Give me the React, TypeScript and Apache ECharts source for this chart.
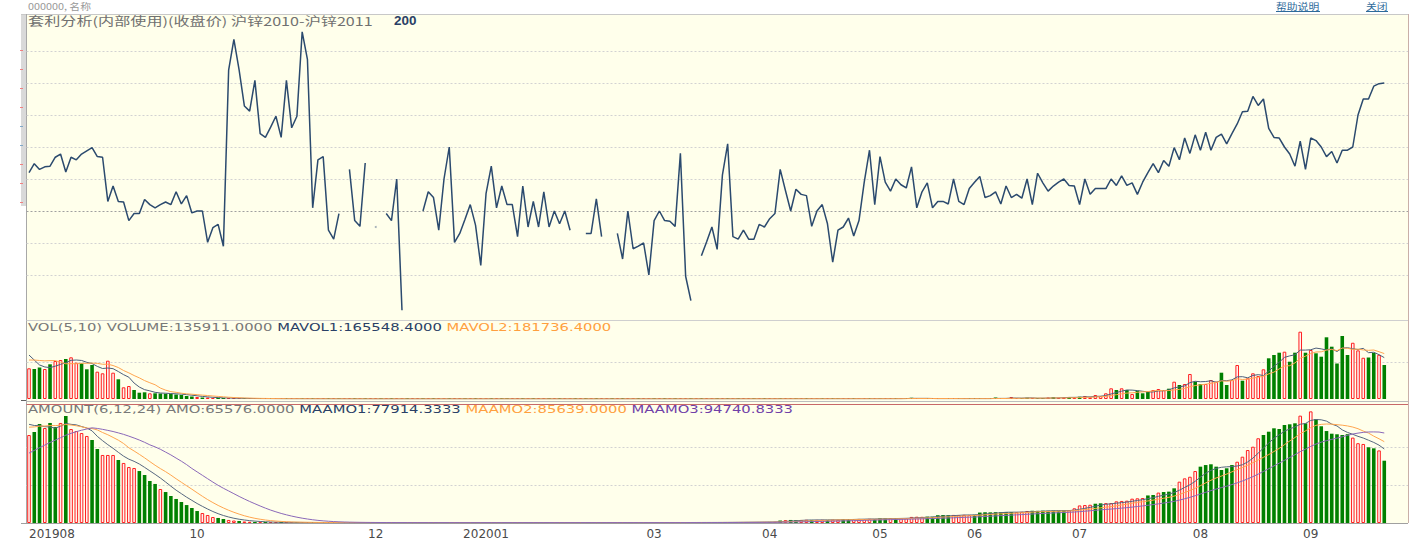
import React, { useEffect, useRef } from "react";
import * as echarts from "echarts";

// ---------- time axis (trading-day bars per month) ----------
const monthIds = ["2019-08", "2019-09", "2019-10", "2019-11", "2019-12", "2020-01", "2020-02", "2020-03", "2020-04", "2020-05", "2020-06", "2020-07", "2020-08", "2020-09"];
const monthLabels = ["201908", "09", "10", "11", "12", "202001", "02", "03", "04", "05", "06", "07", "08", "09"];
const monthShown = [true, false, true, false, true, true, false, true, true, true, true, true, true, true];
const monthBars = [14, 18, 16, 18, 21, 14, 18, 22, 21, 18, 20, 23, 21, 15];

// ---------- spread 沪锌2010-沪锌2011 (close) ----------
const spread: (number | null)[] = [
  60, 74, 65, 69, 70, 84, 89, 61, 84, 80,
  89, 94, 99, 85, 84, 15, 39, 15, 14, -15,
  -4, -4, 18, 10, 5, 10, 14, 10, 30, 11,
  24, -3, 0, 0, -49, -26, -21, -55, 220, 268,
  220, 164, 156, 204, 121, 115, 131, 148, 115, 204,
  130, 148, 280, 237, 5, 80, 85, -30, -44, -4,
  null, 65, -15, -24, 75, null, -25, null, -4, -15,
  50, -155, null, null, null, 0, 30, 21, -30, 50,
  100, -49, -35, -13, 10, -22, -85, 27, 70, 5,
  39, 10, 10, -40, 39, -25, 15, -25, 30, -25,
  0, -20, 0, -30, null, null, -35, -35, 19, -40,
  null, null, -35, -75, 0, -59, -55, -50, -100, -15,
  0, -15, -16, -24, 90, -102, -140, null, -70, -48,
  -25, -60, 56, 105, -40, -44, -30, -44, -44, -21,
  -25, -12, -4, 65, 32, 0, 34, 26, 24, -24,
  0, 10, -20, -80, -30, -25, -11, -39, -15, 45,
  95, 10, 85, 45, 31, 50, 41, 36, 69, 5,
  30, 44, 5, 15, 15, 11, 50, 15, 10, 35,
  45, 54, 21, 24, 30, 11, 39, 21, 26, 20,
  50, 10, 59, 44, 31, 39, 45, 50, 40, 39,
  10, 50, 26, 35, 35, 35, 50, 40, 55, 40,
  44, 26, 45, 60, 74, 60, 79, 70, 99, 80,
  114, 90, 119, 95, 123, 95, 115, 120, 105, 121,
  136, 155, 156, 179, 165, 175, 129, 115, 114, 100,
  89, 70, 109, 65, 114, 110, 100, 85, 93, 75,
  95, 95, 100, 150, 175, 175, 195, 199, 200,
];

// ---------- VOLUME ----------
const volumePrior = [120000, 144000, 136000, 128000, 152000, 220000, 224000, 160000, 152000];
const volume = [
  122800, 120000, 126000, 120000, 138800, 152000, 156000, 160000, 166800, 145200,
  142800, 118800, 136000, 109200, 102800, 153200, 105200, 78800, 46800, 52000,
  36000, 25200, 26800, 22800, 22800, 22000, 21200, 20000, 18000, 16000,
  12000, 10000, 8000, 6000, 6000, 4000, 4000, 3200, 3200, 2400,
  2000, 1800, 1600, 1400, 1200, 1200, 1000, 1000, 900, 900,
  800, 800, 900, 700, 800, 700, 600, 700, 600, 600,
  500, 600, 500, 600, 500, 400, 500, 400, 500, 500,
  600, 500, 400, 400, 500, 600, 500, 600, 500, 500,
  600, 500, 500, 600, 500, 500, 600, 500, 600, 500,
  500, 600, 500, 500, 600, 500, 600, 500, 500, 600,
  500, 600, 500, 500, 400, 400, 600, 500, 600, 500,
  400, 400, 500, 600, 500, 600, 500, 600, 500, 600,
  600, 500, 600, 500, 700, 600, 700, 500, 600, 700,
  600, 700, 800, 700, 600, 700, 800, 700, 800, 700,
  800, 900, 800, 900, 1000, 900, 800, 900, 1000, 900,
  1000, 900, 1000, 1100, 1000, 900, 1000, 1100, 1200, 1000,
  1100, 1200, 1000, 1200, 1100, 1300, 1200, 4000, 5000, 1200,
  1300, 1200, 1400, 1300, 1200, 1400, 1300, 1500, 1400, 1600,
  1500, 1400, 1600, 1500, 6000, 1600, 1500, 8000, 1600, 4000,
  5000, 3000, 2000, 1800, 6000, 7000, 5000, 6000, 8000, 6800,
  9200, 12000, 6800, 16000, 12000, 22800, 42800, 36000, 42800, 36000,
  20000, 33200, 22800, 29200, 36000, 40000, 36000, 41200, 69200, 56000,
  60000, 100000, 69200, 60000, 60000, 76000, 69200, 105200, 56000, 76000,
  136000, 73200, 82800, 102800, 92000, 118800, 162800, 176000, 185200, 189200,
  149200, 185200, 269200, 185200, 196000, 182800, 169200, 246800, 209200, 142000,
  252000, 176000, 225000, 194622, 165000, 166000, 184000, 176831, 135911,
];
const volColors =
  "RGGRGRRGRRGGGRRRRGRRGGGRGGGGGGGGRGRRGGRR" +
  "RGRRGRGRRGRRGRGRRGRG" + "RRGRGRRGRGRRGRRGRGRR" + "GRRGRGRRGRGGRRGRGRRG" + "RGRRGRGRGRRGRGRRGRRG" +
  "RGRGRRGRGRRGRGRGRRGR" + "GRRGRRGRGRRGRGGRRGRR" + "GRGRRGRGGRRGRRGGRGRG" + "GGRGGRGRRGGRGGRGRRG" +
  "RGRRRRRRGRGRGGGRRRG" + "RGRRGGRRRGGRRGRRRR" + "GGGRGGRGRGGGGGGGRRRGGRG";

// ---------- AMOUNT ----------
const amountPrior = [29500, 32600, 35800, 38900, 42100, 45300, 48400, 51600, 54700, 57900, 61100, 57900, 92600, 94700, 97900, 100000, 101000, 101000, 103200, 105300, 106300, 107400, 108400];
const amount = [
  92600, 95800, 104200, 100000, 105300, 101000, 105300, 112600, 98900, 96800,
  94700, 91600, 87400, 77900, 71600, 71600, 71600, 66300, 63200, 58900,
  57900, 54700, 50500, 44200, 41100, 35800, 32600, 28400, 25300, 22100,
  18900, 15800, 12600, 10500, 8400, 6300, 5300, 4200, 3200, 2600,
  2100, 1600, 1300, 1100, 900, 800, 700, 700, 600, 600,
  600, 500, 500, 500, 500, 500, 400, 400, 400, 400,
  400, 500, 400, 400, 500, 400, 400, 500, 400, 400,
  500, 400, 400, 500, 400, 400, 500, 400, 500, 400,
  400, 500, 400, 400, 500, 400, 500, 400, 400, 500,
  400, 400, 500, 400, 500, 400, 400, 500, 400, 500,
  500, 400, 400, 500, 400, 500, 400, 400, 500, 400,
  400, 500, 400, 500, 400, 400, 500, 400, 500, 500,
  500, 400, 500, 500, 600, 500, 600, 500, 600, 600,
  600, 600, 700, 700, 800, 800, 900, 900, 1000, 1000,
  1100, 1100, 1200, 2600, 3000, 3200, 3000, 3200, 3400, 3200,
  3300, 3400, 3200, 3500, 3400, 4000, 4200, 4100, 4300, 4200,
  4400, 4200, 4900, 4800, 5000, 4900, 5100, 5000, 6400, 6600,
  6500, 6700, 6600, 8200, 8400, 8300, 8500, 8400, 8600, 8500,
  8700, 11000, 11300, 11200, 11400, 11300, 11500, 11600, 11400, 11800,
  12600, 12900, 12800, 13000, 12900, 13100, 13000, 13200, 13400, 15500,
  18500, 18900, 19200, 20300, 20700, 20900, 21000, 22800, 23200, 23500,
  25600, 26000, 26300, 29000, 29500, 32000, 32600, 33000, 36500, 43500,
  47000, 48700, 54700, 59300, 61000, 61800, 59300, 55800, 57600, 61000,
  64500, 69800, 76800, 80300, 89200, 92630, 96100, 99680, 98940, 103150,
  103890, 104950, 113000, 104950, 117500, 109500, 101822, 96800, 94000, 93400,
  92600, 93500, 89882, 84000, 83200, 79700, 78600, 76410, 65576,
];
const amtColors =
  "RGGRGGRGRRRRGGRRRGRRRGGGGRGGGGGGGRRRGGRR" +
  "GRRGRGRRGRRGRRGRGRRG" + "RGRGRRGRGRGRRGRGRRGR" + "GRGRRGRGRRGRGRGRRGRG" + "RRGRGRGRRGRGRRGRGRGR" + "GRGRRGRGRGRRGRGRRGRG" +
  "RGRGRGGRRG" + "RRGRRGGRRR" + "RGGGRGRRRR" + "RGGGGGRRRR" + "GGGGGGGGRR" + "RGGGGGGGRR" +
  "RRRGGRRRRR" + "RRRGGRGGGR" + "RRRGGGGGGG" + "RRRRRGGGGG" + "GGRGRGGGGG" + "GGRRRGGRG";

// ---------- grid line values ----------
const spreadGridValues = [250, 200, 150, 100, 50, 0, -50, -100];
const volumeGridValues = [150000];
const amountGridValues = [40000, 80000];

const TITLE_MAIN = "套利分析(内部使用)(收盘价) 沪锌2010-沪锌2011";

function movingAverage(values: number[], prior: number[], n: number): number[] {
  const all = prior.concat(values);
  const out: number[] = [];
  for (let i = prior.length; i < all.length; i++) {
    let s = 0;
    let c = 0;
    for (let j = Math.max(0, i - n + 1); j <= i; j++) {
      s += all[j];
      c++;
    }
    out.push(s / c);
  }
  return out;
}

const categories: string[] = [];
const labelOf: Record<string, string> = {};
monthIds.forEach((id, m) => {
  for (let k = 0; k < monthBars[m]; k++) {
    const key = `${id}/${k + 1}`;
    categories.push(key);
    if (k === 0 && monthShown[m]) labelOf[key] = monthLabels[m];
  }
});

const RED = { color: "#FFF2F0", borderColor: "#FF2020", borderWidth: 1 };
const GREEN = { color: "#008000", borderColor: "#008000", borderWidth: 0 };

export default function App() {
  const ref = useRef<HTMLDivElement>(null);

  useEffect(() => {
    if (!ref.current) return;
    const chart = echarts.init(ref.current, null, { renderer: "svg" });

    const mavol1 = movingAverage(volume, volumePrior, 5);
    const mavol2 = movingAverage(volume, volumePrior, 10);
    const maamo1 = movingAverage(amount, amountPrior, 6);
    const maamo2 = movingAverage(amount, amountPrior, 12);
    const maamo3 = movingAverage(amount, amountPrior, 24);
    const last = volume.length - 1;

    const isolated: [number, number][] = [];
    spread.forEach((v, i) => {
      if (v !== null && spread[i - 1] == null && spread[i + 1] == null) isolated.push([i, v]);
    });

    const L = 26.4;
    const Wd = 1360.5;
    const xAxes = [0, 1, 2].map((g) => ({
      type: "category",
      gridIndex: g,
      data: categories,
      boundaryGap: true,
      axisLine: { show: false },
      axisTick: { show: false },
      splitLine: { show: false },
      axisLabel:
        g === 2
          ? {
              show: true,
              interval: (_i: number, v: string) => !!labelOf[v],
              formatter: (v: string) => labelOf[v] || "",
              color: "#4a4a4a",
              fontFamily: "DejaVu Sans",
              fontSize: 12,
              margin: 5,
              alignMinLabel: "left",
            }
          : { show: false },
    }));

    const lineS = (name: string, data: number[], color: string, g: number) => ({
      name,
      type: "line",
      xAxisIndex: g,
      yAxisIndex: g,
      data,
      showSymbol: false,
      symbol: "none",
      lineStyle: { color, width: 1 },
      z: 5,
      silent: true,
    });

    const option: any = {
      animation: false,
      backgroundColor: "#ffffff",
      grid: [
        { left: L, width: Wd, top: 14, height: 306 },
        { left: L, width: Wd, top: 320, height: 79 },
        { left: L, width: Wd, top: 404, height: 119 },
      ],
      xAxis: xAxes,
      yAxis: [
        { type: "value", gridIndex: 0, min: -170.3125, max: 307.8125, show: false },
        { type: "value", gridIndex: 1, min: 0, max: 316000, show: false },
        { type: "value", gridIndex: 2, min: 0, max: 125263, show: false },
      ],
      series: [
        {
          name: "spread",
          type: "line",
          xAxisIndex: 0,
          yAxisIndex: 0,
          data: spread,
          connectNulls: false,
          showSymbol: false,
          symbol: "none",
          clip: false,
          lineStyle: { color: "#2B4A6E", width: 1.5 },
          z: 5,
          silent: true,
        },
        {
          type: "scatter",
          xAxisIndex: 0,
          yAxisIndex: 0,
          data: isolated,
          symbolSize: 2,
          itemStyle: { color: "#8896A8" },
          silent: true,
        },
        {
          name: "VOLUME",
          type: "bar",
          xAxisIndex: 1,
          yAxisIndex: 1,
          barWidth: 3.6,
          barMinHeight: 1,
          data: volume.map((v, i) => ({ value: v, itemStyle: volColors[i] === "G" ? GREEN : RED })),
          silent: true,
        },
        lineS("MAVOL1", mavol1, "#4C5E7A", 1),
        lineS("MAVOL2", mavol2, "#FFA54F", 1),
        {
          name: "AMOUNT",
          type: "bar",
          xAxisIndex: 2,
          yAxisIndex: 2,
          barWidth: 3.6,
          barMinHeight: 1,
          data: amount.map((v, i) => ({ value: v, itemStyle: amtColors[i] === "G" ? GREEN : RED })),
          silent: true,
        },
        lineS("MAAMO1", maamo1, "#56677F", 2),
        lineS("MAAMO2", maamo2, "#FFA54F", 2),
        lineS("MAAMO3", maamo3, "#8A68B8", 2),
      ],
    };
    chart.setOption(option);

    const py = (axis: number, v: number) => Math.round(chart.convertToPixel({ yAxisIndex: axis } as any, v) as number) + 0.5;
    const hline = (y: number, stroke: string, dash: number[] | null, x1 = 26.5, x2 = 1408) => ({
      type: "line",
      shape: { x1, y1: y, x2, y2: y },
      style: { stroke, lineWidth: 1, lineDash: dash || undefined },
      z: 1,
      silent: true,
    });
    const vline = (x: number, y1: number, y2: number, stroke: string) => ({
      type: "line",
      shape: { x1: x, y1, x2: x, y2 },
      style: { stroke, lineWidth: 1 },
      z: 1,
      silent: true,
    });

    const fmt = (v: number) => v.toFixed(4);
    const SX = 1.345;
    const leftTicks = [
      { y: 50.5, c: "#F08080" }, { y: 69.5, c: "#F08080" }, { y: 88.5, c: "#F08080" }, { y: 107.5, c: "#F08080" },
      { y: 126.5, c: "#80A8C8" }, { y: 145.5, c: "#80A8C8" },
      { y: 164.5, c: "#F08080" }, { y: 183.5, c: "#F08080" }, { y: 202.5, c: "#F08080" },
    ];

    const graphics: any[] = [
      { type: "rect", shape: { x: 26.5, y: 14, width: 1382, height: 509 }, style: { fill: "#FFFFEB" }, z: -10, silent: true },
      { type: "rect", shape: { x: 21, y: 14, width: 5, height: 192 }, style: { fill: "#D9D9D9" }, z: 1, silent: true },
      ...leftTicks.map((t) => ({ type: "line", shape: { x1: 20, y1: t.y, x2: 23, y2: t.y }, style: { stroke: t.c, lineWidth: 1 }, z: 2, silent: true })),
      hline(14.5, "#C8C8C8", null, 21, 1408),
      vline(26.5, 14, 523, "#A8A8A8"),
      vline(1408.5, 14, 523, "#C9AFA8"),
      hline(320.5, "#CFCFCF", null),
      hline(401.5, "#BDBDBD", null),
      hline(404.5, "#C86868", null),
      hline(523.5, "#A0A0A0", null, 21, 1408),
      hline(400.5, "#606060", null, 21, 26),
      ...spreadGridValues.map((v) => hline(py(0, v), v === 0 ? "#A0A0A0" : "#D2D2D2", [2, 2])),
      ...volumeGridValues.map((v) => hline(py(1, v), "#D2D2D2", [2, 2])),
      ...amountGridValues.map((v) => hline(py(2, v), "#D2D2D2", [2, 2])),
      // small header texts above the frame
      { type: "text", x: 28, y: 1, scaleX: 1.2, style: { text: "000000, 名称", fill: "#999", font: '9px "Noto Sans CJK SC"', verticalAlign: "top" }, z: 10, silent: true },
      { type: "text", x: 1276, y: 1, scaleX: 1.2, style: { text: "帮助说明", fill: "#2E6A9A", font: '9px "Noto Sans CJK SC"', verticalAlign: "top" }, z: 10, silent: true },
      { type: "text", x: 1366, y: 1, scaleX: 1.2, style: { text: "关闭", fill: "#2E6A9A", font: '9px "Noto Sans CJK SC"', verticalAlign: "top" }, z: 10, silent: true },
      hline(11.5, "#2E6A9A", null, 1276, 1320),
      hline(11.5, "#2E6A9A", null, 1366, 1388),
      // panel titles
      {
        type: "text", x: 28, y: 21, scaleX: 1.345,
        style: {
          text: TITLE_MAIN,
          verticalAlign: "middle",
          fill: "#707070",
          font: '12px "Noto Sans CJK SC"',
        },
        z: 10, silent: true,
      },
      {
        type: "text", x: 394, y: 21, scaleX: 1.12,
        style: {
          text: String(spread[spread.length - 1]),
          verticalAlign: "middle",
          fill: "#2A4066",
          font: 'bold 12px "Liberation Sans"',
        },
        z: 10, silent: true,
      },
      {
        type: "text", x: 28, y: 327.5, scaleX: SX,
        style: {
          text: `{g|VOL(5,10) VOLUME:${fmt(volume[last])}} {a|MAVOL1:${fmt(mavol1[last])}} {o|MAVOL2:${fmt(mavol2[last])}}`,
          verticalAlign: "middle",
          rich: {
            g: { fill: "#787878", fontFamily: "DejaVu Sans", fontSize: 11 },
            a: { fill: "#2A4066", fontFamily: "DejaVu Sans", fontSize: 11 },
            o: { fill: "#FF9F3F", fontFamily: "DejaVu Sans", fontSize: 11 },
          },
        },
        z: 10, silent: true,
      },
      {
        type: "text", x: 28, y: 409.5, scaleX: SX,
        style: {
          text: `{g|AMOUNT(6,12,24) AMO:${fmt(amount[last])}} {a|MAAMO1:${fmt(maamo1[last])}} {o|MAAMO2:${fmt(maamo2[last])}} {p|MAAMO3:${fmt(maamo3[last])}}`,
          verticalAlign: "middle",
          rich: {
            g: { fill: "#787878", fontFamily: "DejaVu Sans", fontSize: 11 },
            a: { fill: "#2A4066", fontFamily: "DejaVu Sans", fontSize: 11 },
            o: { fill: "#FF9F3F", fontFamily: "DejaVu Sans", fontSize: 11 },
            p: { fill: "#7040A8", fontFamily: "DejaVu Sans", fontSize: 11 },
          },
        },
        z: 10, silent: true,
      },
    ];
    chart.setOption({ graphic: graphics });

    return () => chart.dispose();
  }, []);

  return <div ref={ref} style={{ position: "fixed", left: 0, top: 0, width: 1410, height: 541 }} />;
}
